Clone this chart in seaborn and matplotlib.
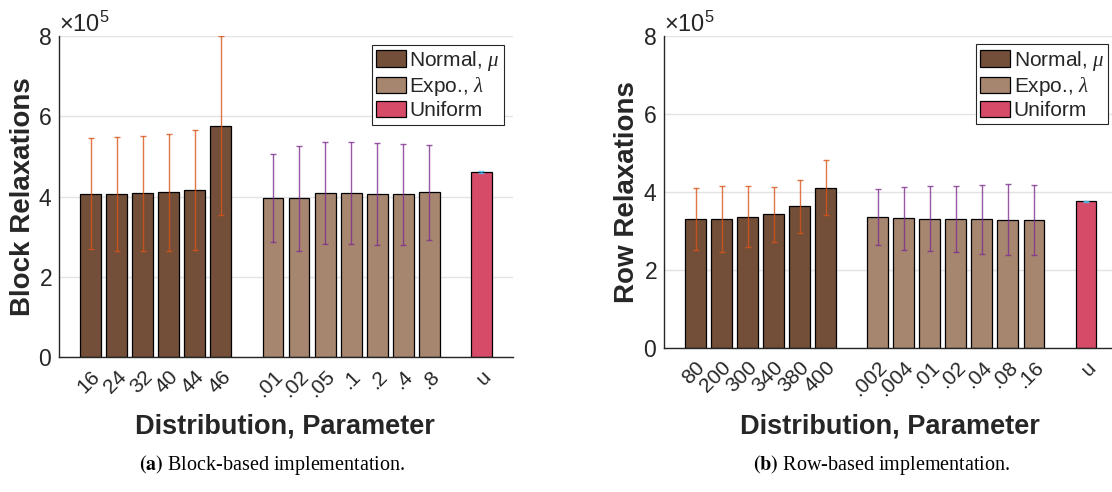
import numpy as np
import pandas as pd
import matplotlib
matplotlib.use("Agg")
import matplotlib.pyplot as plt
import seaborn as sns
from matplotlib.patches import Patch
from matplotlib.ticker import ScalarFormatter

# ---------------- data ----------------
# (a) Block-based implementation
block_normal_params = ["16", "24", "32", "40", "44", "46"]
block_normal_mean = [4.07e5, 4.06e5, 4.08e5, 4.11e5, 4.16e5, 5.76e5]
block_normal_std = [1.39e5, 1.42e5, 1.44e5, 1.46e5, 1.49e5, 2.23e5]

block_expo_params = [".01", ".02", ".05", ".1", ".2", ".4", ".8"]
block_expo_mean = [3.96e5, 3.96e5, 4.09e5, 4.09e5, 4.06e5, 4.05e5, 4.10e5]
block_expo_std = [1.10e5, 1.31e5, 1.28e5, 1.28e5, 1.28e5, 1.26e5, 1.19e5]

block_uni_params = ["u"]
block_uni_mean = [4.61e5]
block_uni_std = [0.02e5]

# (b) Row-based implementation
row_normal_params = ["80", "200", "300", "340", "380", "400"]
row_normal_mean = [3.31e5, 3.31e5, 3.37e5, 3.43e5, 3.63e5, 4.11e5]
row_normal_std = [0.80e5, 0.85e5, 0.78e5, 0.71e5, 0.69e5, 0.71e5]

row_expo_params = [".002", ".004", ".01", ".02", ".04", ".08", ".16"]
row_expo_mean = [3.36e5, 3.33e5, 3.32e5, 3.31e5, 3.30e5, 3.29e5, 3.29e5]
row_expo_std = [0.72e5, 0.81e5, 0.83e5, 0.84e5, 0.88e5, 0.91e5, 0.90e5]

row_uni_params = ["u"]
row_uni_mean = [3.76e5]
row_uni_std = [0.02e5]

dist_names = ["Normal", "Expo", "Uniform"]
legend_labels = ["Normal, $\\mu$", "Expo., $\\lambda$", "Uniform"]
bar_colors = ["#734f39", "#a6866f", "#d64b67"]
err_colors = ["#D95319", "#7E2F8E", "#4DBEEE"]

ylabels = ["Block Relaxations", "Row Relaxations"]
xlabel = "Distribution, Parameter"
captions = ["$\\mathbf{(a)}$ Block-based implementation.",
            "$\\mathbf{(b)}$ Row-based implementation."]

# ---------------- style ----------------
sns.set_style("white")
plt.rcParams["font.family"] = ["Liberation Sans", "DejaVu Sans"]
plt.rcParams["mathtext.fontset"] = "custom"
plt.rcParams["mathtext.rm"] = "Liberation Sans"
plt.rcParams["mathtext.it"] = "Liberation Serif:italic"
plt.rcParams["mathtext.bf"] = "Liberation Sans:bold"
AX_COL = "#262626"


def build_frame(groups):
    rows = []
    pos = 0
    for name, params, means, stds in groups:
        for p, m, s in zip(params, means, stds):
            rows.append(dict(dist=name, param=p, value=m, sd=s, pos=pos))
            pos += 1
        pos += 1  # gap between distributions
    return pd.DataFrame(rows)


panels = [
    build_frame([
        ("Normal", block_normal_params, block_normal_mean, block_normal_std),
        ("Expo", block_expo_params, block_expo_mean, block_expo_std),
        ("Uniform", block_uni_params, block_uni_mean, block_uni_std),
    ]),
    build_frame([
        ("Normal", row_normal_params, row_normal_mean, row_normal_std),
        ("Expo", row_expo_params, row_expo_mean, row_expo_std),
        ("Uniform", row_uni_params, row_uni_mean, row_uni_std),
    ]),
]

W, H = 1112, 492
fig = plt.figure(figsize=(W / 100, H / 100), dpi=100)

# axes boxes in pixels: (left, top, right, bottom)
boxes = [(59, 36, 513, 357), (664, 36, 1117.5, 348)]
xlabel_centers = [(285, 413), (890, 413)]
ylabel_right = [36, 640]
caption_centers = [(272, 465), (882, 465)]

for k, (df, box) in enumerate(zip(panels, boxes)):
    l, t, r, b = box
    ax = fig.add_axes([l / W, 1 - b / H, (r - l) / W, (b - t) / H])
    pal = dict(zip(dist_names, bar_colors))
    sns.barplot(data=df, x="pos", y="value", hue="dist", hue_order=dist_names,
                palette=pal, native_scale=True, dodge=False, width=0.8,
                edgecolor="black", linewidth=0.9, errorbar=None,
                legend=False, ax=ax, saturation=1, zorder=2)
    for name, ec in zip(dist_names, err_colors):
        sub = df[df["dist"] == name]
        ax.errorbar(sub["pos"], sub["value"], yerr=sub["sd"], fmt="none",
                    ecolor=ec, elinewidth=1.0, capsize=2.5, capthick=1.0,
                    alpha=0.8, zorder=3)

    npos = df["pos"].max()
    ax.set_xlim(-1.21, npos + 1.21)
    ax.set_ylim(0, 8e5)
    ax.set_yticks([0, 2e5, 4e5, 6e5, 8e5])
    fmt = ScalarFormatter(useMathText=True)
    fmt.set_powerlimits((0, 0))
    ax.yaxis.set_major_formatter(fmt)
    ax.yaxis.get_offset_text().set_fontsize(17)
    ax.yaxis.get_offset_text().set_color(AX_COL)

    ax.set_xticks(df["pos"])
    ax.set_xticklabels(df["param"], rotation=45, ha="right", va="top",
                       rotation_mode="anchor")
    ax.tick_params(axis="x", direction="in", length=3, width=0.6,
                   labelsize=15, pad=7, colors=AX_COL)
    ax.tick_params(axis="y", direction="in", length=4, width=0.6,
                   labelsize=16.5, pad=5, colors=AX_COL)

    ax.grid(axis="y", color="#e3e3e3", linewidth=1.0, zorder=0)
    ax.set_axisbelow(True)
    for sname in ["top", "right"]:
        ax.spines[sname].set_visible(False)
    for sname in ["left", "bottom"]:
        ax.spines[sname].set_color(AX_COL)
        ax.spines[sname].set_linewidth(1.0)
        ax.spines[sname].set_zorder(4)

    ax.set_xlabel(xlabel, fontsize=19.5, fontweight="bold", color=AX_COL)
    cx, cy = xlabel_centers[k]
    ax.xaxis.set_label_coords((cx - l) / (r - l), (b - cy) / (b - t))
    ax.set_ylabel(ylabels[k], fontsize=20, fontweight="bold", color=AX_COL)
    ax.yaxis.set_label_coords((ylabel_right[k] - l) / (r - l), 0.5)

    handles = [Patch(facecolor=c, edgecolor="black", linewidth=0.9)
               for c in bar_colors]
    leg = ax.legend(handles, legend_labels, loc="upper right",
                    bbox_to_anchor=(0.98, 0.973), borderaxespad=0,
                    fontsize=15, handlelength=1.45, handleheight=0.85,
                    handletextpad=0.15, labelspacing=0.12, borderpad=0.2,
                    fancybox=False, framealpha=1, edgecolor=AX_COL)
    leg.get_frame().set_linewidth(0.8)

    ccx, ccy = caption_centers[k]
    fig.text(ccx / W, 1 - ccy / H, captions[k], ha="center", va="center",
             fontsize=14.5, family="Liberation Serif", math_fontfamily="stix",
             color="black")

fig.savefig("out.png", dpi=100)
